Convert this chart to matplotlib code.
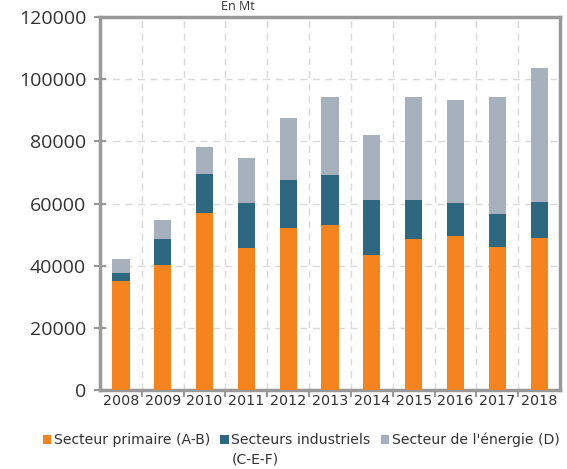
import numpy as np
import matplotlib
matplotlib.use("Agg")
import matplotlib.pyplot as plt
from matplotlib.ticker import FixedLocator

# values (tonnes)
years = ["2008", "2009", "2010", "2011", "2012", "2013",
         "2014", "2015", "2016", "2017", "2018"]
primaire = [35100, 40200, 57000, 45700, 52100, 53100, 43400, 48700, 49500, 46100, 49000]
industriels = [2500, 8400, 12500, 14500, 15500, 16100, 17700, 12400, 10600, 10600, 11500]
energie = [4500, 6100, 8700, 14400, 19900, 25100, 20900, 33300, 33100, 37500, 43200]

labels = ["Secteur primaire (A-B)", "Secteurs industriels", "Secteur de l'énergie (D)"]
colors = ["#F5841F", "#2E6880", "#A6B1BD"]

plt.rcParams['font.family'] = ['Open Sans', 'DejaVu Sans']

fig = plt.figure(figsize=(5.67, 4.69), dpi=100)
ax = fig.add_axes([0.1764, 0.1684, 0.8113, 0.7953])

x = np.arange(len(years))
w = 0.41
bottom = np.zeros(len(years))
for vals, lab, col in zip([primaire, industriels, energie], labels, colors):
    ax.bar(x, vals, w, bottom=bottom, color=col, label=lab, zorder=3)
    bottom += np.array(vals)

ax.set_xlim(-0.5, len(years) - 0.5)
ax.set_ylim(0, 120000)
ax.set_yticks(np.arange(0, 120001, 20000))
ax.tick_params(axis='y', labelsize=14, direction='inout', length=8, width=1.5,
               color='#999999', labelcolor='#333333', pad=6)

ax.set_xticks(x)
ax.set_xticklabels(years, family='DejaVu Sans')
ax.xaxis.set_minor_locator(FixedLocator(np.arange(0.5, len(years) - 0.5, 1)))
ax.tick_params(axis='x', which='major', length=0, labelsize=10.3, labelcolor='#333333', pad=3)
ax.tick_params(axis='x', which='minor', length=5, width=1.5, color='#999999', direction='out')

ax.grid(axis='y', color='#d9d9d9', linestyle=(0, (5, 4)), linewidth=1, zorder=0)
ax.grid(axis='x', which='minor', color='#d9d9d9', linestyle=(0, (5, 4)), linewidth=1, zorder=0)

for s in ax.spines.values():
    s.set_color('#999999')
    s.set_linewidth(2.5)

fig.text(0.42, 1.0, "En Mt", ha='center', va='top', fontsize=9, color='#333333')

leg = fig.legend(loc='center left', bbox_to_anchor=(0.0758, 0.0618), ncol=3, frameon=False,
                 prop={'family': 'DejaVu Sans', 'size': 10.1},
                 handlelength=0.6, handleheight=0.6, handletextpad=0.2,
                 columnspacing=0.7, borderaxespad=0, borderpad=0, labelcolor='#333333')

# second line of the wrapped "Secteurs industriels" label
fig.canvas.draw()
t = leg.get_texts()[1]
bb = t.get_window_extent().transformed(fig.transFigure.inverted())
fig.text(bb.x0, 0.0192, "(C-E-F)", ha='left', va='center',
         family='DejaVu Sans', fontsize=10.1, color='#333333')

fig.savefig("out.png", dpi=100)
